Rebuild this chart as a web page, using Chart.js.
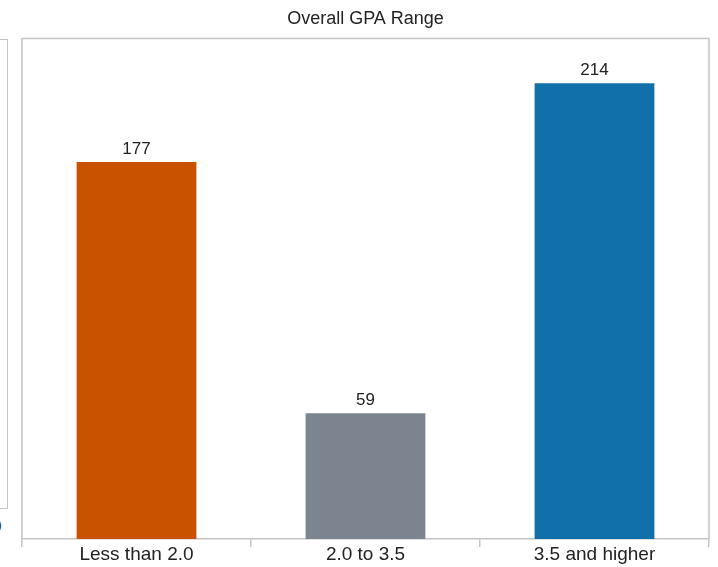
<!DOCTYPE html>
<html>
<head>
<meta charset="utf-8">
<script src="https://cdn.jsdelivr.net/npm/chart.js@4/dist/chart.umd.min.js"></script>
<style>
  html, body { margin: 0; padding: 0; background: #ffffff; }
  #wrap { position: relative; width: 718px; height: 567px; overflow: hidden; font-family: "Liberation Sans", Arial, sans-serif; }
  #neighbor { position: absolute; left: -60px; top: 38.5px; width: 66px; height: 468px; border: 1.5px solid #c4c4c4; }
  #neighborZero { position: absolute; left: -8px; top: 518px; font-size: 17px; line-height: 17px; color: #222; }
  canvas { position: absolute; left: 0; top: 0; }
</style>
</head>
<body>
<div id="wrap">
  <div id="neighbor"></div>
  <div id="neighborZero">0</div>
  <canvas id="chart" width="718" height="567"></canvas>
</div>
<script>
// GPA ranges and student counts
const categories = ['Less than 2.0', '2.0 to 3.5', '3.5 and higher'];
const counts = [177, 59, 214];
const barColors = ['#c85200', '#7b848f', '#1170aa'];

const FONT = '"Liberation Sans", Arial, Helvetica, sans-serif';
const LINE = '#c4c4c4';

// Frame around the plot area (top, left, right) and value labels above bars
const framePlugin = {
  id: 'frame',
  beforeDatasetsDraw(chart) {
    const { ctx, chartArea: a } = chart;
    ctx.save();
    ctx.strokeStyle = LINE;
    ctx.lineWidth = 1.5;
    ctx.beginPath();
    ctx.moveTo(a.left, a.bottom);
    ctx.lineTo(a.left, a.top);
    ctx.lineTo(a.right, a.top);
    ctx.lineTo(a.right, a.bottom);
    ctx.stroke();
    ctx.restore();
  },
  afterDatasetsDraw(chart) {
    const { ctx } = chart;
    const meta = chart.getDatasetMeta(0);
    const data = chart.data.datasets[0].data;
    ctx.save();
    ctx.font = '17px ' + FONT;
    ctx.fillStyle = '#222222';
    ctx.textAlign = 'center';
    ctx.textBaseline = 'alphabetic';
    meta.data.forEach((bar, i) => {
      ctx.fillText(String(data[i]), bar.x, bar.y - 8.5);
    });
    ctx.restore();
  }
};

new Chart(document.getElementById('chart'), {
  type: 'bar',
  data: {
    labels: categories,
    datasets: [{
      data: counts,
      backgroundColor: barColors,
      borderWidth: 0,
      barPercentage: 0.523,
      categoryPercentage: 1.0
    }]
  },
  options: {
    responsive: false,
    animation: false,
    events: [],
    layout: { padding: { left: 22, right: 9, top: 0, bottom: 0 } },
    plugins: {
      legend: { display: false },
      tooltip: { enabled: false },
      title: {
        display: true,
        text: 'Overall GPA Range',
        color: '#222222',
        font: { family: FONT, size: 18, weight: 'normal' },
        padding: { top: 8, bottom: 9 }
      }
    },
    scales: {
      x: {
        offset: true,
        grid: {
          offset: true,
          drawOnChartArea: false,
          drawTicks: true,
          tickLength: 8,
          color: LINE,
          lineWidth: 1.5
        },
        border: { display: true, color: LINE, width: 1.5 },
        ticks: {
          color: '#222222',
          font: { family: FONT, size: 19 },
          padding: -4,
          maxRotation: 0,
          autoSkip: false
        },
        afterFit(scale) { scale.height = 28; }
      },
      y: {
        display: false,
        min: 0,
        max: 235
      }
    }
  },
  plugins: [framePlugin]
});
</script>
</body>
</html>
